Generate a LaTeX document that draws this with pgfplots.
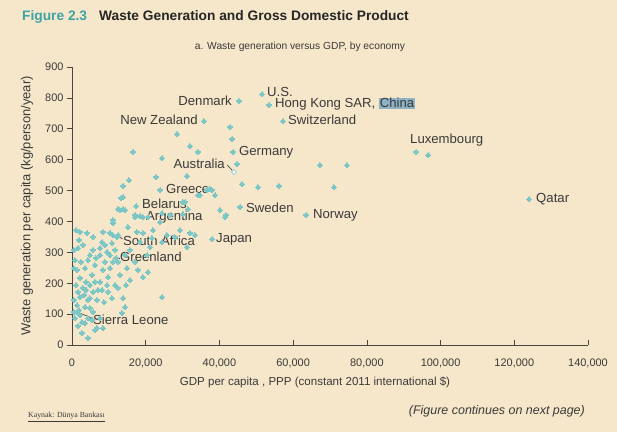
\documentclass[border=0pt]{standalone}
\usepackage{pgfplots}
\pgfplotsset{compat=1.18}
\usepackage{fontspec}
\setmainfont{Liberation Sans}
\newfontfamily\seriffont{Liberation Serif}
\definecolor{bg}{HTML}{F6E7CA}
\definecolor{dotc}{HTML}{7CC6C6}
\definecolor{txt}{HTML}{3A3A3A}
\definecolor{axc}{HTML}{4A4740}
\definecolor{figteal}{HTML}{3DA3A6}
\definecolor{hl}{HTML}{8DB3C4}
\begin{document}
\begin{tikzpicture}[x=1bp,y=1bp]
\fill[bg] (-72,-87) rectangle (545,345);
\begin{axis}[
  at={(0,0)}, anchor=south west,
  scale only axis, width=516bp, height=278bp,
  xmin=0, xmax=140000, ymin=0, ymax=900,
  axis lines=left,
  axis line style={-, draw=axc, line width=0.9pt},
  xtick={0,20000,...,140000}, ytick={0,100,...,900},
  scaled x ticks=false,
  tick align=outside, major tick length=5bp,
  tick style={draw=axc, line width=0.7pt},
  xtick style={yshift=5bp},
  /pgf/number format/.cd, fixed, precision=0, 1000 sep={,}, assume math mode=true,
  /pgfplots/.cd,
  ticklabel style={font=\fontsize{11}{13}\selectfont, text=txt},
  xticklabel style={yshift=-5bp},
  yticklabel style={xshift=0bp},
  clip=false,
]
\addplot[only marks, mark=square*, mark size=1.8bp, color=dotc, mark options={solid, rotate=45, draw=dotc, fill=dotc, line width=0pt}] table {
x y
51550 812
53450 777
45300 790
57250 725
35800 725
43700 625
23900 502
17400 450
19260 414
12500 356
11940 282
1360 107
38000 343
45600 447
63500 421
93350 625
96600 615
124000 472
42870 706
43410 667
44760 586
67280 582
74600 582
46120 521
50460 511
56160 515
71080 511
37980 502
38800 485
40150 437
41780 421
28490 683
32000 644
34180 625
16550 625
24420 605
31200 547
22790 544
15460 534
13840 515
37440 505
34180 485
13300 476
12480 440
13840 440
30100 463
17100 421
18450 417
24420 427
31470 440
13020 437
14380 437
17090 414
20620 414
23870 398
26590 421
33370 356
31200 317
11120 395
2170 366
4070 363
5700 350
8410 366
8140 333
10850 330
11120 356
17630 366
19260 363
21700 346
24420 333
25770 356
27940 350
1630 314
5700 308
7600 291
9500 301
11120 269
8950 269
810 275
4340 275
1360 243
3530 249
6240 259
8410 243
10310 249
13020 227
9770 220
2170 217
5430 227
7600 204
4880 194
9500 194
2980 185
5700 172
8140 178
2170 155
4340 146
6780 146
1360 129
3530 123
10850 152
13840 152
14380 123
5700 107
2170 97
3530 71
6780 55
8410 55
2710 39
13560 104
19260 220
20620 236
24420 155
20350 291
21160 317
18450 333
10310 363
12210 350
15190 382
21970 372
29300 372
32010 363
30110 424
41510 414
36630 502
34730 485
30660 463
13840 479
11120 405
540 308
1090 194
1630 172
540 146
1900 113
810 87
2710 74
4340 87
4880 120
3260 162
3800 204
6240 204
7050 178
540 249
2440 269
1900 340
1090 372
2980 324
4880 291
6510 282
7600 314
8950 324
10310 291
11670 308
12480 269
4340 23
5430 81
7600 87
6240 49
1630 62
540 107
3800 178
4880 152
8680 139
9770 172
11670 194
12480 185
14650 194
15730 210
14920 249
17090 269
17900 243
14380 291
15730 308
};
\addplot[only marks, mark=square*, mark size=1.8bp, mark options={solid, rotate=45, draw=dotc, fill=white, line width=0.5pt}] coordinates {(43950,560)};
% labels
\begin{scope}[every node/.style={font=\fontsize{13.2}{15}\selectfont, text=txt, inner sep=0pt}]
\node[anchor=east] at (axis cs:43400,790) {Denmark};
\node[anchor=west] at (axis cs:52900,820) {U.S.};
\node[anchor=west] at (axis cs:55070,780) {Hong Kong SAR, {\setlength{\fboxsep}{0.8pt}\colorbox{hl}{China}}};
\node[anchor=west] at (axis cs:58600,728) {Switzerland};
\node[anchor=east] at (axis cs:34180,728) {New Zealand};
\node[anchor=west] at (axis cs:45300,625) {Germany};
\node[anchor=east] at (axis cs:41500,588) {Australia};
\node[anchor=west] at (axis cs:25500,505) {Greece};
\node[anchor=west] at (axis cs:18990,458) {Belarus};
\node[anchor=west] at (axis cs:20080,414) {Argentina};
\node[anchor=west] at (axis cs:13840,337) {South Africa};
\node[anchor=west] at (axis cs:13020,285) {Greenland};
\node[anchor=west] at (axis cs:5700,81) {Sierra Leone};
\node[anchor=west] at (axis cs:39070,343) {Japan};
\node[anchor=west] at (axis cs:47200,443) {Sweden};
\node[anchor=west] at (axis cs:65380,421) {Norway};
\node[anchor=west] at (axis cs:91700,664) {Luxembourg};
\node[anchor=west] at (axis cs:125900,473) {Qatar};
\end{scope}
\draw[txt, line width=0.6pt] (axis cs:42100,583) -- (axis cs:43500,565);
\draw[txt, line width=0.6pt] (axis cs:12300,356) -- (axis cs:13700,343);
\draw[txt, line width=0.6pt] (axis cs:12100,282) -- (axis cs:13000,282);
\draw[txt, line width=0.6pt] (axis cs:1360,107) -- (axis cs:5500,87);
\end{axis}
% titles and labels
\node[anchor=west, inner sep=0pt, font=\fontsize{13.8}{15}\selectfont\bfseries] at (-50,328) {\textcolor{figteal}{Figure 2.3}\hspace{12bp}\textcolor{black!85}{Waste Generation and Gross Domestic Product}};
\node[inner sep=0pt, font=\fontsize{10.3}{12}\selectfont, text=txt] at (228,298) {a. Waste generation versus GDP, by economy};
\node[inner sep=0pt, font=\fontsize{11.6}{13}\selectfont, text=txt] at (243,-37) {GDP per capita , PPP (constant 2011 international \$)};
\node[inner sep=0pt, rotate=90, font=\fontsize{13}{15}\selectfont, text=txt] at (-45,139) {Waste generation per capita (kg/person/year)};
\node[anchor=east, inner sep=0pt, font=\fontsize{12.5}{14}\selectfont\itshape, text=txt] at (513,-66) {(Figure continues on next page)};
\node[anchor=west, inner sep=0pt, font=\fontsize{7.8}{9}\seriffont, text=txt] at (-44,-72) {\underline{Kaynak: Dünya Bankası}};
\end{tikzpicture}
\end{document}
